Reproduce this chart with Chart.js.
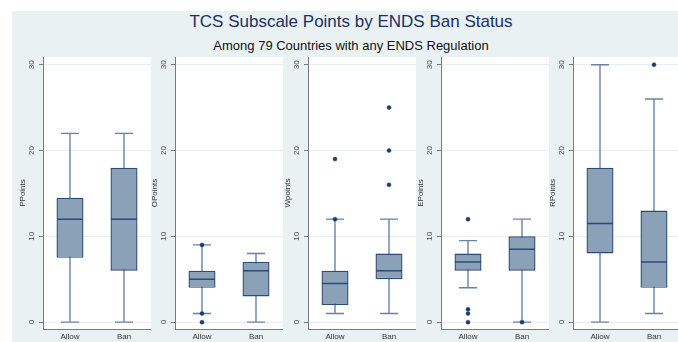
<!DOCTYPE html>
<html>
<head>
<meta charset="utf-8">
<script src="https://cdn.jsdelivr.net/npm/chart.js@4.4.1/dist/chart.umd.min.js"></script>
<style>
  html, body { margin:0; padding:0; background:#ffffff; width:678px; height:342px; overflow:hidden; }
  #bg { position:absolute; left:12px; top:11px; width:666px; height:331px; background:#e9f1f3; }
  #title { position:absolute; left:12px; width:678px; top:12px; text-align:center;
           font-family:"Liberation Sans", Arial, sans-serif; font-size:17px; color:#1f2f63; line-height:20px; }
  #subtitle { position:absolute; left:12px; width:678px; top:38px; text-align:center;
           font-family:"Liberation Sans", Arial, sans-serif; font-size:13px; color:#111; line-height:16px; }
  canvas { position:absolute; top:50px; }
</style>
</head>
<body>
<div id="bg"></div>
<div id="title">TCS Subscale Points by ENDS Ban Status</div>
<div id="subtitle">Among 79 Countries with any ENDS Regulation</div>
<canvas id="c0" width="139" height="292" style="left:12px"></canvas>
<canvas id="c1" width="139" height="292" style="left:144px"></canvas>
<canvas id="c2" width="139" height="292" style="left:277px"></canvas>
<canvas id="c3" width="139" height="292" style="left:410px"></canvas>
<canvas id="c4" width="139" height="292" style="left:542px"></canvas>
<script>
// ---- data ----
const groups = ['Allow', 'Ban'];
const panelTitles = ['PPoints', 'OPoints', 'Wpoints', 'EPoints', 'RPoints'];
const yTicks = [0, 10, 20, 30];

// P points
const pMin = [0, 0], pQ1 = [7.5, 6], pMed = [12, 12], pQ3 = [14.5, 18], pMax = [22, 22];
const pOut = [[], []];
// O points
const oMin = [1, 0], oQ1 = [4, 3], oMed = [5, 6], oQ3 = [6, 7], oMax = [9, 8];
const oOut = [[9, 1, 0], []];
// W points
const wMin = [1, 1], wQ1 = [2, 5], wMed = [4.5, 6], wQ3 = [6, 8], wMax = [12, 12];
const wOut = [[19, 12], [25, 20, 16]];
// E points
const eMin = [4, 0], eQ1 = [6, 6], eMed = [7, 8.5], eQ3 = [8, 10], eMax = [9.5, 12];
const eOut = [[12, 1.5, 1, 0], [0]];
// R points
const rMin = [0, 1], rQ1 = [8, 4], rMed = [11.5, 7], rQ3 = [18, 13], rMax = [30, 26];
const rOut = [[], [30]];

const panels = [
  [pMin, pQ1, pMed, pQ3, pMax, pOut],
  [oMin, oQ1, oMed, oQ3, oMax, oOut],
  [wMin, wQ1, wMed, wQ3, wMax, wOut],
  [eMin, eQ1, eMed, eQ3, eMax, eOut],
  [rMin, rQ1, rMed, rQ3, rMax, rOut]
];

// ---- styles ----
const BOX_FILL = '#8aa1b8';
const BOX_EDGE = '#2a4a78';
const WHISK = '#6981a6';
const DOT = '#1b3d6e';
const GRID = '#e6eef1';
const AXIS = '#7a7a7a';
const FONT = '"Liberation Sans", Arial, sans-serif';

const whitePlot = {
  id: 'whitePlot',
  beforeDraw(chart) {
    const a = chart.chartArea, ctx = chart.ctx;
    ctx.save();
    ctx.fillStyle = '#ffffff';
    ctx.fillRect(a.left, a.top, a.right - a.left, a.bottom - a.top);
    ctx.restore();
  }
};

// vertical (rotated) y tick labels centred on each tick, placed via the y scale
const rotatedYLabels = {
  id: 'rotatedYLabels',
  afterDraw(chart) {
    const y = chart.scales.y, ctx = chart.ctx;
    ctx.save();
    ctx.font = '8px ' + FONT;
    ctx.fillStyle = '#444';
    ctx.textAlign = 'center';
    ctx.textBaseline = 'middle';
    y.ticks.forEach(t => {
      const py = y.getPixelForValue(t.value);
      ctx.save();
      ctx.translate(y.right - 11, py);
      ctx.rotate(-Math.PI / 2);
      ctx.fillText(String(t.value), 0, 0);
      ctx.restore();
    });
    ctx.restore();
  }
};

panels.forEach((p, k) => {
  const [mn, q1, md, q3, mx, out] = p;
  const caps = [];
  groups.forEach((g, i) => { caps.push({x: g, y: mn[i]}); caps.push({x: g, y: mx[i]}); });
  const outs = [];
  groups.forEach((g, i) => out[i].forEach(v => outs.push({x: g, y: v})));

  new Chart(document.getElementById('c' + k), {
    data: {
      labels: groups,
      datasets: [
        { type: 'bar', data: groups.map((g, i) => [mn[i], mx[i]]), grouped: false,
          backgroundColor: WHISK, maxBarThickness: 1.4, categoryPercentage: 1, barPercentage: 0.5, order: 6 },
        { type: 'bar', data: groups.map((g, i) => [q1[i], q3[i]]), grouped: false,
          backgroundColor: BOX_FILL, borderColor: BOX_EDGE, borderWidth: 1.4, borderSkipped: false,
          categoryPercentage: 1, barPercentage: 0.5, order: 5 },
        { type: 'line', data: caps, showLine: false, pointStyle: 'line', pointRadius: 9,
          pointBorderColor: WHISK, pointBorderWidth: 1.4, order: 4 },
        { type: 'line', data: groups.map((g, i) => ({x: g, y: md[i]})), showLine: false,
          pointStyle: 'line', pointRadius: 13, pointBorderColor: BOX_EDGE, pointBorderWidth: 1.5, order: 3 },
        { type: 'line', data: outs, showLine: false, pointStyle: 'circle', pointRadius: 2,
          pointBackgroundColor: DOT, pointBorderColor: DOT, pointBorderWidth: 0.5, order: 1 }
      ]
    },
    options: {
      responsive: false,
      devicePixelRatio: 1,
      animation: false,
      events: [],
      layout: { autoPadding: false, padding: { top: 7, left: 0, right: 0, bottom: 0 } },
      plugins: { legend: { display: false }, tooltip: { enabled: false } },
      scales: {
        x: {
          type: 'category',
          grid: { display: false, drawTicks: false },
          border: { display: true, color: AXIS, width: 1 },
          ticks: { font: { family: FONT, size: 8 }, color: '#333', padding: 3, maxRotation: 0 },
          afterFit(s) { s.height = 13; }
        },
        y: {
          min: -0.8, max: 30.9,
          afterBuildTicks(s) { s.ticks = yTicks.map(v => ({ value: v })); },
          grid: { color: GRID, lineWidth: 1, drawTicks: true, tickLength: 4, tickColor: AXIS },
          border: { display: true, color: AXIS, width: 1 },
          ticks: { display: false },
          title: { display: true, text: panelTitles[k], font: { family: FONT, size: 8 }, color: '#333',
                   padding: { top: 6, bottom: 0 } },
          afterFit(s) { s.width = 31; }
        }
      }
    },
    plugins: [whitePlot, rotatedYLabels]
  });
});
</script>
</body>
</html>
